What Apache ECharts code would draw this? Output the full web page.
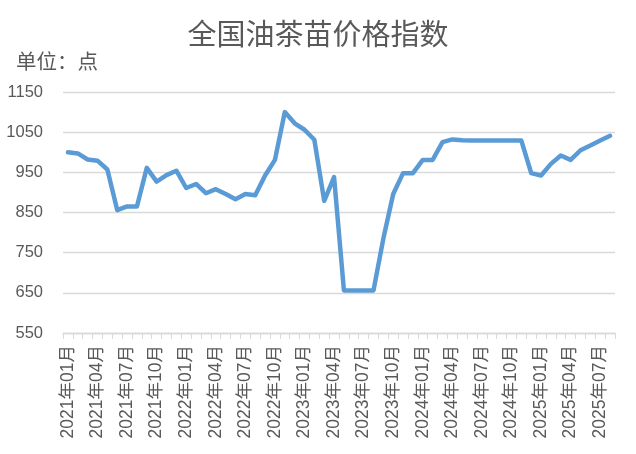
<!DOCTYPE html>
<html>
<head>
<meta charset="utf-8">
<script src="https://cdn.jsdelivr.net/npm/echarts@6/dist/echarts.min.js"></script>
<style>
html,body{margin:0;padding:0;background:#fff;}
#c{width:636px;height:454px;}
</style>
</head>
<body>
<div id="c"></div>
<script>
const categories = [
  '2021年01月','2021年02月','2021年03月','2021年04月','2021年05月','2021年06月','2021年07月','2021年08月','2021年09月','2021年10月','2021年11月','2021年12月',
  '2022年01月','2022年02月','2022年03月','2022年04月','2022年05月','2022年06月','2022年07月','2022年08月','2022年09月','2022年10月','2022年11月','2022年12月',
  '2023年01月','2023年02月','2023年03月','2023年04月','2023年05月','2023年06月','2023年07月','2023年08月','2023年09月','2023年10月','2023年11月','2023年12月',
  '2024年01月','2024年02月','2024年03月','2024年04月','2024年05月','2024年06月','2024年07月','2024年08月','2024年09月','2024年10月','2024年11月','2024年12月',
  '2025年01月','2025年02月','2025年03月','2025年04月','2025年05月','2025年06月','2025年07月','2025年08月'
];
const priceIndex = [
  1000, 997, 982, 979, 957, 856, 865, 865, 961, 927, 943, 954,
  911, 921, 898, 908, 896, 883, 896, 893, 942, 981, 1100, 1072,
  1056, 1031, 879, 938, 656, 656, 656, 656, 785, 896, 948, 948,
  981, 981, 1025, 1032, 1030, 1029, 1029, 1029, 1029, 1029, 1029, 948,
  942, 971, 992, 981, 1005, 1017, 1029, 1041
];
const yMin = 550, yMax = 1150, yStep = 100;
const titleText = '全国油茶苗价格指数';
const unitText = '单位：点';

const font = '"Liberation Sans", "Noto Sans CJK SC", sans-serif';
const chart = echarts.init(document.getElementById('c'), null, {renderer: 'canvas'});
chart.setOption({
  animation: false,
  backgroundColor: '#ffffff',
  title: [
    {text: titleText, left: 'center', top: 17,
     textStyle: {fontSize: 29, fontWeight: 'normal', color: '#595959', fontFamily: font}},
    {text: unitText, left: 11, top: 48,
     textStyle: {fontSize: 20.5, fontWeight: 'normal', color: '#595959', fontFamily: font}}
  ],
  grid: {left: 63, right: 21, top: 92, bottom: 121, containLabel: false},
  xAxis: {
    type: 'category',
    data: categories,
    boundaryGap: true,
    axisLine: {show: true, lineStyle: {color: '#d9d9d9', width: 1.3}},
    axisTick: {show: true, interval: 0, length: 6, lineStyle: {color: '#d9d9d9'}},
    axisLabel: {interval: 2, rotate: 90, fontSize: 17.5, color: '#595959', margin: 12, fontFamily: font},
    splitLine: {show: false}
  },
  yAxis: {
    type: 'value',
    min: yMin, max: yMax, interval: yStep,
    axisLine: {show: false},
    axisTick: {show: false},
    axisLabel: {fontSize: 16.5, color: '#595959', margin: 20, fontFamily: font,
                formatter: function (v) { return String(v); }},
    splitLine: {show: true, lineStyle: {color: '#d9d9d9', width: 1.3}}
  },
  series: [{
    type: 'line',
    data: priceIndex,
    showSymbol: false,
    symbol: 'none',
    lineStyle: {color: '#5b9bd5', width: 4.5, cap: 'round', join: 'round'},
    itemStyle: {color: '#5b9bd5'}
  }]
});
</script>
</body>
</html>
